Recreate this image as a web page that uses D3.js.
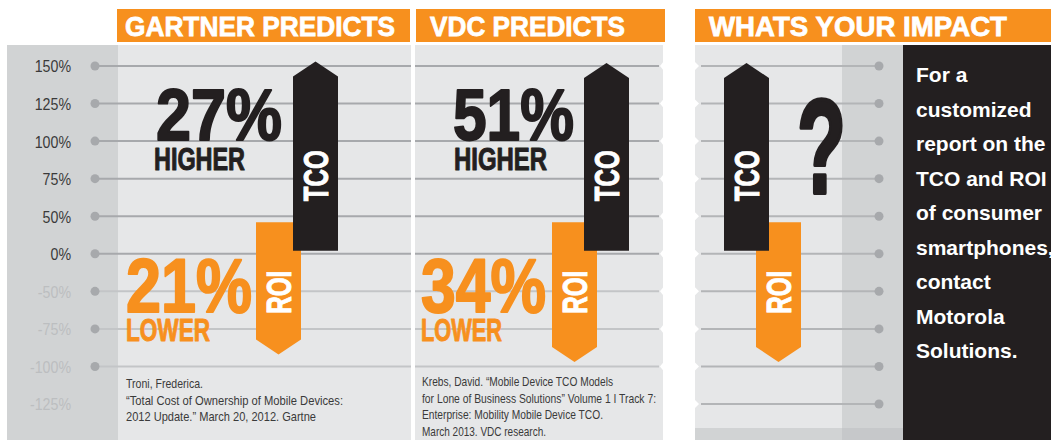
<!DOCTYPE html>
<html>
<head>
<meta charset="utf-8">
<script src="https://cdn.jsdelivr.net/npm/d3@7"></script>
<style>
  body { margin: 0; background: #fff; }
  svg { display: block; }
</style>
</head>
<body>
<div id="chart"></div>
<script>
// TCO / ROI infographic
const tickLabels = ["150%", "125%", "100%", "75%", "50%", "0%", "-50%", "-75%", "-100%", "-125%"];
const tickValues = [150, 125, 100, 75, 50, 0, -50, -75, -100, -125];
const panelTitles = ["GARTNER PREDICTS", "VDC PREDICTS", "WHATS YOUR IMPACT"];
const tcoHeadline = ["27%", "51%", "?"];
const roiHeadline = ["21%", "34%", ""];
const tcoWord = ["HIGHER", "HIGHER", ""];
const roiWord = ["LOWER", "LOWER", ""];
// bar extents, in axis units [start, tip]
const tcoBars = [[4, 153], [4, 152], [4, 152]];
const roiBars = [[42, -92], [42, -97], [42, -97]];
const gartnerSource = ["Troni, Frederica.", "\u201cTotal Cost of Ownership of Mobile Devices:", "2012 Update.\u201d March 20, 2012. Gartne"];
const vdcSource = ["Krebs, David. \u201cMobile Device TCO Models", "for Lone of Business Solutions\u201d Volume 1 I Track 7:", "Enterprise: Mobility Mobile Device TCO.", "March 2013. VDC research."];
const ctaLines = ["For a", "customized", "report on the", "TCO and ROI", "of consumer", "smartphones,", "contact", "Motorola", "Solutions."];

const W = 1051, H = 440;
const orange = "#f7901e", ink = "#231f20", light = "#e6e7e8", mid = "#d1d3d4", rule = "#a7a9ac", ruleLight = "#c3c5c7";
const font = "'Liberation Sans', Arial, sans-serif";

const svg = d3.select("#chart").append("svg").attr("width", W).attr("height", H);

const yPoint = d3.scalePoint().domain(tickLabels).range([66, 404]);
const y = d3.scaleLinear().domain(tickValues).range(tickLabels.map(l => yPoint(l)));

// squeeze a text to a condensed look
const squeeze = (sel, k) => sel.each(function() {
  const len = this.getComputedTextLength();
  d3.select(this).attr("textLength", len * k).attr("lengthAdjust", "spacingAndGlyphs");
});

const panels = [
  { x0: 118, x1: 411, head: [117, 410], titleX: 125, titleW: 270, tco: 293, roi: 256, lineX: [95, 411], lines: 9 },
  { x0: 415, x1: 663, head: [416, 665], titleX: 430, titleW: 195, tco: 584, roi: 552, lineX: [415, 659], lines: 9 },
  { x0: 695, x1: 842, head: [695, 1051], titleX: 709, titleW: 298, tco: 724, roi: 756, lineX: [701, 879], lines: 10 }
];
const barW = 45, head = 15;

// backgrounds
svg.append("rect").attr("x", 7).attr("y", 45).attr("width", 111).attr("height", H - 45).attr("fill", mid);
panels.forEach(p => {
  svg.append("rect").attr("x", p.x0).attr("y", 45).attr("width", p.x1 - p.x0).attr("height", H - 45).attr("fill", light);
});
svg.append("rect").attr("x", 842).attr("y", 45).attr("width", 61).attr("height", H - 45).attr("fill", mid);
svg.append("rect").attr("x", 903).attr("y", 45).attr("width", W - 903).attr("height", H - 45).attr("fill", ink);
svg.append("rect").attr("x", 695).attr("y", 428).attr("width", 147).attr("height", 12).attr("fill", mid);
svg.append("rect").attr("x", 842).attr("y", 428).attr("width", 61).attr("height", 12).attr("fill", "#c6c8ca");

// headers
panels.forEach((p, i) => {
  svg.append("rect").attr("x", p.head[0]).attr("y", 9).attr("width", p.head[1] - p.head[0]).attr("height", 33).attr("fill", orange);
  svg.append("text").attr("x", p.titleX).attr("y", 35.5)
    .attr("fill", "#fff").attr("stroke", "#fff").attr("stroke-width", 0.8)
    .attr("font-family", font).attr("font-weight", "bold").attr("font-size", 28.5)
    .attr("textLength", p.titleW).attr("lengthAdjust", "spacingAndGlyphs")
    .text(panelTitles[i]);
});

// rules
panels.forEach((p, pi) => {
  const labels = tickLabels.slice(0, p.lines);
  svg.append("g").selectAll("line").data(labels).join("line")
    .attr("x1", p.lineX[0]).attr("x2", p.lineX[1])
    .attr("y1", d => yPoint(d)).attr("y2", d => yPoint(d))
    .attr("stroke", (d, i) => pi < 2 && tickValues[i] < 0 ? ruleLight : (pi === 2 ? "#b3b5b7" : rule))
    .attr("stroke-width", 2);
  if (pi === 1) {
    svg.append("g").selectAll("path").data(labels).join("path")
      .attr("d", d => `M${p.x1 + 1},${yPoint(d) - 5}L${p.x1 - 3},${yPoint(d)}L${p.x1 + 1},${yPoint(d) + 5}Z`)
      .attr("fill", "#fff");
  }
  if (pi === 2) {
    svg.append("g").selectAll("path").data(labels).join("path")
      .attr("d", d => `M${p.x0 - 1},${yPoint(d) - 5}L${p.x0 + 4},${yPoint(d)}L${p.x0 - 1},${yPoint(d) + 5}Z`)
      .attr("fill", "#fff");
    svg.append("g").selectAll("circle").data(labels).join("circle")
      .attr("cx", p.lineX[1]).attr("cy", d => yPoint(d)).attr("r", 4.5).attr("fill", rule);
  }
});

// axis
const axis = svg.append("g").attr("transform", "translate(71,0)")
  .call(d3.axisLeft(yPoint).tickSize(0).tickPadding(0));
axis.select(".domain").remove();
axis.selectAll("text")
  .attr("font-family", font).attr("font-size", 16.5).attr("dy", "0.36em")
  .attr("fill", (d, i) => tickValues[i] < 0 ? "#bcbec0" : "#3a3a3a")
  .call(squeeze, 0.86);
svg.append("g").selectAll("circle").data(tickLabels.slice(0, 9)).join("circle")
  .attr("cx", 95).attr("cy", d => yPoint(d)).attr("r", 4.5).attr("fill", rule);

// headlines
const big = (x, yy, txt, color, size, len, sw) => {
  return svg.append("text").attr("x", x).attr("y", yy)
    .attr("fill", color).attr("stroke", color).attr("stroke-width", sw).attr("stroke-linejoin", "round")
    .attr("font-family", font).attr("font-weight", "bold").attr("font-size", size)
    .attr("textLength", len).attr("lengthAdjust", "spacingAndGlyphs")
    .text(txt);
};
const headX = [[156, 154, 126, 126], [453, 454, 421, 421]];
[0, 1].forEach(i => {
  const hx = headX[i];
  big(hx[0], 139.5, tcoHeadline[i], ink, 73, i ? 121 : 126, 2);
  big(hx[1], 169.5, tcoWord[i], ink, 30.5, i ? 93 : 91, 1);
  big(hx[2], 311.5, roiHeadline[i], orange, 76, i ? 125 : 126, 2);
  big(hx[3], 340.5, roiWord[i], orange, 31.5, i ? 81 : 84, 1);
});
big(797, 193, tcoHeadline[2], ink, 134, 49, 4);

// bars
panels.forEach((p, i) => {
  const [r0, r1] = roiBars[i];
  const rx = p.roi, ry0 = y(r0), ry1 = y(r1);
  svg.append("path")
    .attr("d", `M${rx},${ry0}H${rx + barW}V${ry1 - head}L${rx + barW / 2},${ry1}L${rx},${ry1 - head}Z`)
    .attr("fill", orange);
  svg.append("text")
    .attr("transform", `translate(${rx + barW / 2 + 12.5},${ry0 + 70}) rotate(-90)`)
    .attr("text-anchor", "middle").attr("fill", "#fff").attr("stroke", "#fff").attr("stroke-width", 1)
    .attr("font-family", font).attr("font-weight", "bold").attr("font-size", 35)
    .attr("textLength", 43).attr("lengthAdjust", "spacingAndGlyphs")
    .text("ROI");

  const [t0, t1] = tcoBars[i];
  const tx = p.tco, ty0 = y(t0), ty1 = y(t1);
  svg.append("path")
    .attr("d", `M${tx},${ty0}H${tx + barW}V${ty1 + head}L${tx + barW / 2},${ty1}L${tx},${ty1 + head}Z`)
    .attr("fill", ink);
  svg.append("text")
    .attr("transform", `translate(${tx + barW / 2 + 12.5},${ty0 - 75}) rotate(-90)`)
    .attr("text-anchor", "middle").attr("fill", "#fff").attr("stroke", "#fff").attr("stroke-width", 1)
    .attr("font-family", font).attr("font-weight", "bold").attr("font-size", 35)
    .attr("textLength", 51).attr("lengthAdjust", "spacingAndGlyphs")
    .text("TCO");
});

// sources
const gartnerWidths = [77, 217, 190];
const vdcWidths = [191, 234, 181, 124];
const notes = (lines, widths, x, y0, step) => {
  svg.append("g").selectAll("text").data(lines).join("text")
    .attr("x", x).attr("y", (d, i) => y0 + i * step)
    .attr("fill", "#3a3a3a").attr("font-family", font).attr("font-size", 13.5)
    .attr("textLength", (d, i) => widths[i]).attr("lengthAdjust", "spacingAndGlyphs")
    .text(d => d);
};
notes(gartnerSource, gartnerWidths, 126, 388, 16.5);
notes(vdcSource, vdcWidths, 422, 386, 16.7);

// call to action
svg.append("g").selectAll("text").data(ctaLines).join("text")
  .attr("x", 916).attr("y", (d, i) => 82 + i * 34.5)
  .attr("fill", "#fff").attr("font-family", font).attr("font-weight", "bold")
  .attr("font-size", 21)
  .text(d => d);
</script>
</body>
</html>
